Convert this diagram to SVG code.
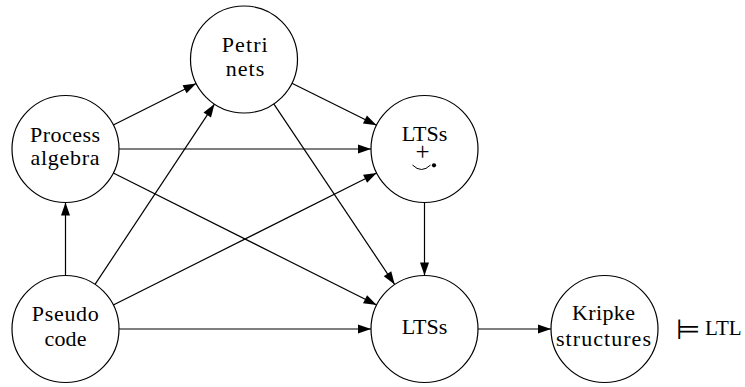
<svg xmlns="http://www.w3.org/2000/svg" width="745" height="387" viewBox="0 0 745 387">
<style>
.node circle{fill:#fff;stroke:#000;stroke-width:1.2}
.node circle.dot{fill:#000;stroke:none}
.lbl{font-family:'Liberation Serif','DejaVu Serif','Times New Roman',serif;font-size:22px;fill:#000;text-anchor:middle}
#edges line{stroke:#000;stroke-width:1.2;marker-end:url(#arr)}
</style>
<defs>
<marker id="arr" markerUnits="userSpaceOnUse" markerWidth="13" markerHeight="9" refX="13" refY="4.5" orient="auto" overflow="visible">
<path d="M0,0 L13,4.5 L0,9 Z" fill="#000"/>
</marker>
</defs>
<rect width="745" height="387" fill="#fff"/>
<g id="edges">
<line x1="113.32" y1="125.02" x2="196.18" y2="83.48"/>
<line x1="119" y1="149" x2="371" y2="149"/>
<line x1="113.32" y1="172.98" x2="376.68" y2="305.02"/>
<line x1="291.93" y1="83.27" x2="376.57" y2="125.23"/>
<line x1="273.77" y1="103.95" x2="394.73" y2="284.55"/>
<line x1="65.5" y1="275.5" x2="65.5" y2="202.5"/>
<line x1="95.04" y1="284.4" x2="214.46" y2="104.1"/>
<line x1="113.32" y1="305.02" x2="376.68" y2="172.98"/>
<line x1="119" y1="329" x2="371" y2="329"/>
<line x1="424.5" y1="202.5" x2="424.5" y2="275.5"/>
<line x1="478" y1="329" x2="551" y2="329"/>
</g>
<g id="petri" class="node">
<circle cx="244" cy="59.5" r="53.5"/>
<text class="lbl" x="244.7" y="52" textLength="46" lengthAdjust="spacing">Petri</text>
<text class="lbl" x="245" y="76" textLength="38.6" lengthAdjust="spacing">nets</text>
</g>
<g id="process" class="node">
<circle cx="65.5" cy="149" r="53.5"/>
<text class="lbl" x="65" y="142" textLength="70" lengthAdjust="spacing">Process</text>
<text class="lbl" x="65" y="165" textLength="69" lengthAdjust="spacing">algebra</text>
</g>
<g id="ltss-top" class="node">
<circle cx="424.5" cy="149" r="53.5"/>
<text class="lbl" x="424.5" y="141">LTSs</text>
<text class="lbl" x="422.5" y="160" style="font-size:25px">+</text>
<path d="M412.5,165 Q421.5,174 430.5,165" fill="none" stroke="#000" stroke-width="1"/>
<circle class="dot" cx="434" cy="165.3" r="2.1"/>
</g>
<g id="pseudo" class="node">
<circle cx="65.5" cy="329" r="53.5"/>
<text class="lbl" x="65.3" y="321" textLength="67" lengthAdjust="spacing">Pseudo</text>
<text class="lbl" x="65.5" y="346" textLength="42" lengthAdjust="spacing">code</text>
</g>
<g id="ltss" class="node">
<circle cx="424.5" cy="329" r="53.5"/>
<text class="lbl" x="424.5" y="334">LTSs</text>
</g>
<g id="kripke" class="node">
<circle cx="604.5" cy="329" r="53.5"/>
<text class="lbl" x="603.5" y="320" textLength="63" lengthAdjust="spacing">Kripke</text>
<text class="lbl" x="603.5" y="346" textLength="95" lengthAdjust="spacing">structures</text>
</g>
<g id="ltl">
<text x="676" y="339" font-family="'DejaVu Sans', sans-serif" font-size="28">⊨</text>
<text x="705" y="335" font-family="'Liberation Serif','DejaVu Serif',serif" font-size="21">LTL</text>
</g>
</svg>
